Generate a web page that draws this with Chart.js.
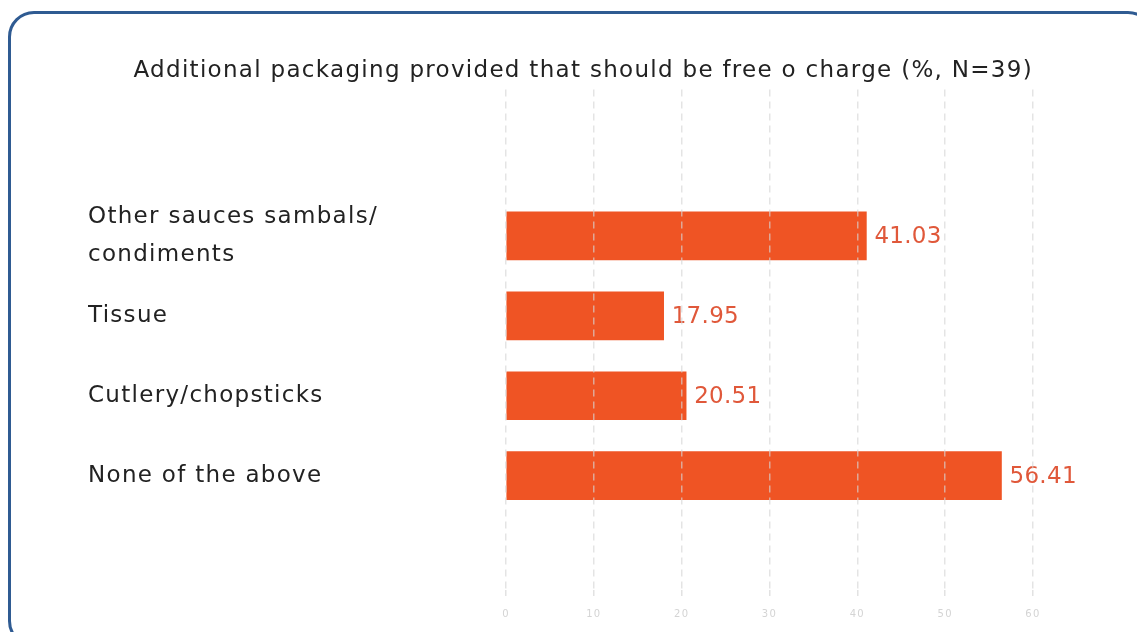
<!DOCTYPE html>
<html>
<head>
<meta charset="utf-8">
<script src="https://cdn.jsdelivr.net/npm/chart.js@4.4.1/dist/chart.umd.min.js"></script>
<style>
  html, body { margin: 0; padding: 0; background: #fff; }
  .wrap { position: relative; width: 1137px; height: 632px; overflow: hidden; }
  .frame {
    position: absolute; left: 8px; top: 11px; width: 1140px; height: 630px;
    border: 3px solid #2f5b92; border-radius: 26px;
  }
  canvas { position: absolute; left: 0; top: 0; }
</style>
</head>
<body>
<div class="wrap">
  <div class="frame"></div>
  <canvas id="barChart" width="1137" height="632"></canvas>
</div>
<script>
const chartTitle = 'Additional packaging provided that should be free o charge (%, N=39)';
const categories = [
  ['Other sauces sambals/', 'condiments'],
  'Tissue',
  'Cutlery/chopsticks',
  'None of the above'
];
const percentages = [41.03, 17.95, 20.51, 56.41];
const xTicks = [0, 10, 20, 30, 40, 50, 60];

const fontFamily = '"DejaVu Sans", sans-serif';

// bars sit on a numeric index axis so there is room above and below them
const points = percentages.map((v, i) => ({ x: v, y: i }));

// a little extra tracking on all text drawn by the chart
const tracking = {
  id: 'tracking',
  beforeDraw(chart) { chart.ctx.letterSpacing = '1.3px'; },
  afterDraw(chart) { chart.ctx.letterSpacing = '0px'; }
};

const valueLabels = {
  id: 'valueLabels',
  afterDatasetsDraw(chart) {
    const ctx = chart.ctx;
    const meta = chart.getDatasetMeta(0);
    ctx.save();
    ctx.letterSpacing = '0.3px';
    ctx.font = '23px ' + fontFamily;
    ctx.fillStyle = '#e0583a';
    ctx.textAlign = 'left';
    ctx.textBaseline = 'middle';
    meta.data.forEach((bar, i) => {
      ctx.fillText(percentages[i].toFixed(2), bar.x + 8, bar.y + 1);
    });
    ctx.restore();
  }
};

const ctx = document.getElementById('barChart').getContext('2d');
const barChart = new Chart(ctx, {
  type: 'bar',
  data: {
    datasets: [{
      data: points,
      backgroundColor: '#ef5424',
      borderWidth: 0,
      barThickness: 48
    }]
  },
  options: {
    indexAxis: 'y',
    responsive: false,
    animation: false,
    layout: { padding: { left: 88, right: 104, top: 0, bottom: 0 } },
    plugins: {
      legend: { display: false },
      tooltip: { enabled: false },
      title: {
        display: true,
        text: chartTitle,
        align: 'end',
        color: '#222',
        font: { family: fontFamily, size: 23, weight: 'normal' },
        padding: { top: 57, bottom: 5 }
      }
    },
    scales: {
      x: {
        type: 'linear',
        min: 0,
        max: 60,
        afterBuildTicks: s => { s.ticks = xTicks.map(v => ({ value: v })); },
        ticks: {
          color: '#d4d4d4',
          font: { family: fontFamily, size: 10 },
          padding: 12
        },
        grid: {
          z: 1,
          color: 'rgba(214,214,214,0.65)',
          lineWidth: 1.5,
          tickLength: 6,
          tickColor: '#e2e2e2'
        },
        border: { display: false, dash: [7, 5] }
      },
      y: {
        type: 'linear',
        reverse: true,
        offset: false,
        min: -1.83,
        max: 4.43,
        afterBuildTicks: s => { s.ticks = categories.map((c, i) => ({ value: i })); },
        afterFit: s => { s.width = 418; },
        ticks: {
          callback: v => categories[v],
          color: '#222',
          crossAlign: 'far',
          font: { family: fontFamily, size: 23, lineHeight: 1.65 }
        },
        grid: { display: false },
        border: { display: false }
      }
    }
  },
  plugins: [tracking, valueLabels]
});
</script>
</body>
</html>
